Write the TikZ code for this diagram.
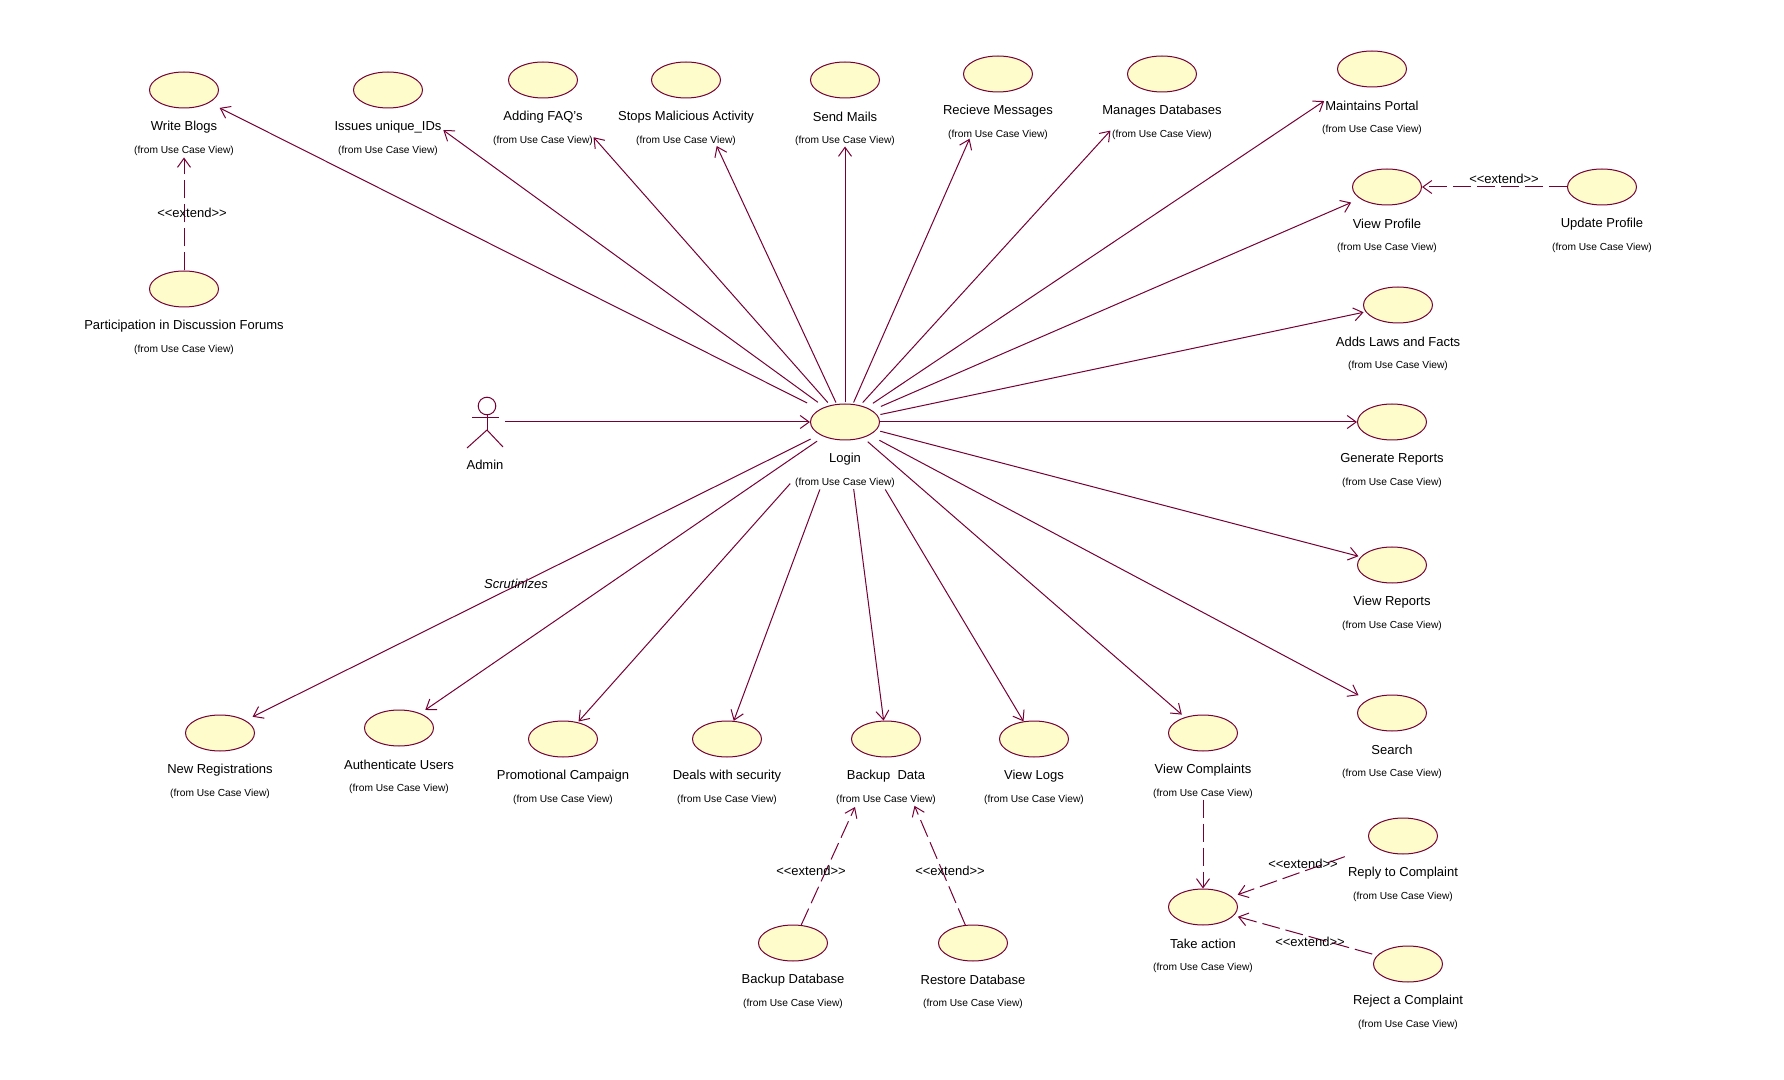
\documentclass[tikz,border=0pt]{standalone}
\usepackage{fontspec}
\setmainfont{Liberation Sans}
\usetikzlibrary{arrows.meta}
\usetikzlibrary{shapes.geometric}

\definecolor{umlline}{HTML}{750035}
\definecolor{umlfill}{HTML}{FFFCCB}

\tikzset{
  ucase/.style={draw=umlline, fill=umlfill, ellipse, inner sep=0pt, line width=0.5pt,
    minimum width=34.5pt, minimum height=18pt},
  ucname/.style={inner sep=0pt, font=\fontsize{6.5}{7}\selectfont},
  ucfrom/.style={inner sep=0pt, font=\fontsize{5.1}{6}\selectfont},
  assoc/.style={->, umlline, line width=0.5pt},
  extendline/.style={->, umlline, line width=0.5pt, dash pattern=on 9pt off 3pt},
  extendtext/.style={inner sep=0pt, font=\fontsize{6.5}{7}\selectfont}
}

\begin{document}
\begin{tikzpicture}[x=0.5pt, y=-0.5pt, >={Straight Barb[length=4.5pt,width=6.5pt]}]
  \useasboundingbox (0,0) rectangle (1784,1080);

  % The use cases: name, centre and text
  \foreach \name/\x/\y/\txt in {
      login/845/422/Login,
      wblogs/184/90/Write Blogs,
      issues/388/90/Issues unique\_IDs,
      faq/543/80/Adding FAQ's,
      stops/686/80/Stops Malicious Activity,
      mails/845/80/Send Mails,
      recieve/998/74/Recieve Messages,
      manages/1162/74/Manages Databases,
      portal/1372/69/Maintains Portal,
      vprofile/1387/187/View Profile,
      uprofile/1602/187/Update Profile,
      laws/1398/305/Adds Laws and Facts,
      generate/1392/422/Generate Reports,
      vreports/1392/565/View Reports,
      search/1392/713/Search,
      forums/184/289/Participation in Discussion Forums,
      newreg/220/733/New Registrations,
      auth/399/728/Authenticate Users,
      promo/563/739/Promotional Campaign,
      deals/727/739/Deals with security,
      backup/886/739/Backup\ \ Data,
      vlogs/1034/739/View Logs,
      vcompl/1203/733/View Complaints,
      action/1203/907/Take action,
      reply/1403/836/Reply to Complaint,
      reject/1408/964/Reject a Complaint,
      bdb/793/943/Backup Database,
      rdb/973/943/Restore Database}
  {
    \node[ucase] (\name) at (\x,\y) {};
    \node[ucname] (\name-t) at (\x,\y+37) {\txt};
    \node[ucfrom] (\name-f) at (\x,\y+61) {(from Use Case View)};
  }

  % The actor
  \node[minimum width=17pt, minimum height=26pt, inner sep=0pt] (admin) at (488,424) {};
  \draw[umlline, line width=0.5pt] (487,406) circle (4.4pt);
  \draw[umlline, line width=0.5pt] (487,415) -- (487,430);
  \draw[umlline, line width=0.5pt] (472,418) -- (499,418);
  \draw[umlline, line width=0.5pt] (467,448) -- (487,430) -- (503,447);
  \node[ucname] (admin-t) at (485,465) {Admin};
  \draw[assoc] (admin.east |- login) -- (login);

  % Login to the others: goal, gap at login and gap at the goal
  \foreach \goal/\sa/\sb in {
      wblogs/14/11.5, issues/8/43, faq/3.6/54, stops/1.6/53, mails/1/48,
      recieve/1.6/51, manages/3.7/54, portal/7.5/31.5, vprofile/9.6/9.6,
      laws/3/2, generate/0/0, vreports/4/2.3, search/11/10, vcompl/6/4,
      vlogs/58/0, backup/49/0, deals/52.6/0, promo/60/1, auth/8/6, newreg/10/8}
    \draw[assoc, shorten <=\sa*0.5pt, shorten >=\sb*0.5pt] (login) -- (\goal);

  % The extend relations
  \draw[extendline, shorten >=24.5pt] (forums) -- (wblogs);
  \draw[extendline] (uprofile) -- (vprofile);
  \draw[extendline, shorten <=24pt] (vcompl) -- (action);
  \draw[extendline, shorten >=27.5pt] (bdb) -- (backup);
  \draw[extendline, shorten >=26.5pt] (rdb) -- (backup);
  \draw[extendline, shorten <=15.5pt, shorten >=3pt] (reply) -- (action);
  \draw[extendline, shorten <=2.5pt, shorten >=2pt] (reject) -- (action);

  \node[extendtext] (ext1) at (192,213) {<{}<extend>{}>};
  \node[extendtext] (ext2) at (1504,179) {<{}<extend>{}>};
  \node[extendtext] (ext3) at (811,871) {<{}<extend>{}>};
  \node[extendtext] (ext4) at (950,871) {<{}<extend>{}>};
  \node[extendtext] (ext5) at (1303,864) {<{}<extend>{}>};
  \node[extendtext] (ext6) at (1310,942) {<{}<extend>{}>};

  \node[extendtext, font=\fontsize{6.5}{7}\selectfont\itshape] (scrut) at (516,584) {Scrutinizes};
\end{tikzpicture}
\end{document}
